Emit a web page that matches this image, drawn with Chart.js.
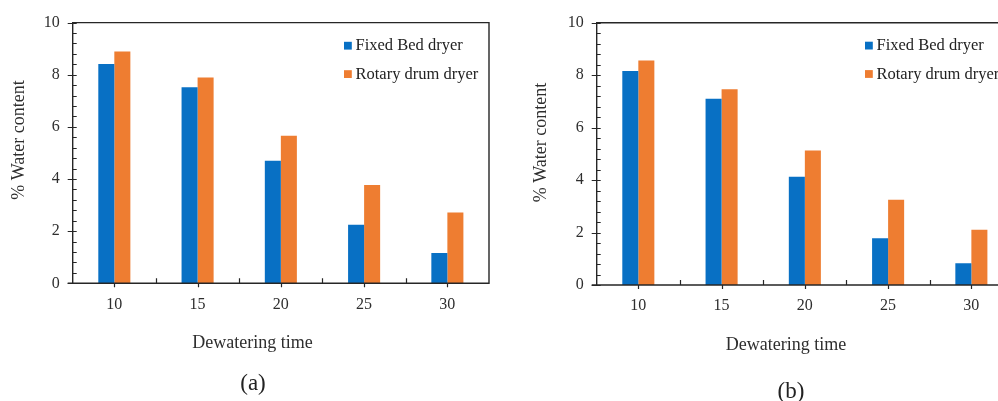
<!DOCTYPE html>
<html><head><meta charset="utf-8">
<script src="https://cdn.jsdelivr.net/npm/chart.js@4/dist/chart.umd.min.js"></script>
<style>
html,body{margin:0;padding:0;width:998px;height:401px;overflow:hidden;background:#fff;}
#wrap{position:relative;width:998px;height:401px;overflow:hidden;}
canvas{position:absolute;top:0;}
</style></head><body>
<div id="wrap">
<canvas id="ca" width="500" height="401" style="left:0"></canvas>
<canvas id="cb" width="530" height="401" style="left:500px"></canvas>
</div>
<script>
// ---- data ----
const categories = ['10', '15', '20', '25', '30'];
const seriesNames = ['Fixed Bed dryer', 'Rotary drum dryer'];
const fixedBedA = [8.41, 7.52, 4.70, 2.25, 1.16];
const rotaryDrumA = [8.89, 7.89, 5.66, 3.77, 2.72];
const fixedBedB = [8.16, 7.10, 4.13, 1.78, 0.83];
const rotaryDrumB = [8.56, 7.46, 5.13, 3.25, 2.11];
const yMin = 0, yMax = 10, yStep = 2, yMinorStep = 0.4;
const xTitle = 'Dewatering time';
const yTitle = '% Water content';
const panelLabels = ['(a)', '(b)'];

// ---- styles ----
const BLUE = '#0870C4';
const ORANGE = '#EE7D31';
const FONT = "'Liberation Serif', 'Times New Roman', serif";
const AXIS = '#262626';
const TEXT = '#2e2e2e';

const decor = {
  id: 'decor',
  afterDraw(chart, args, o) {
    const ctx = chart.ctx, ca = chart.chartArea;
    const xs = chart.scales.x, ys = chart.scales.y;
    ctx.save();
    ctx.strokeStyle = AXIS;
    ctx.lineWidth = 1.4;
    // frame
    ctx.beginPath();
    ctx.moveTo(ca.left, ca.bottom); ctx.lineTo(ca.left, ca.top); ctx.lineTo(ca.right, ca.top); ctx.lineTo(ca.right, ca.bottom); ctx.lineTo(ca.left - 5, ca.bottom);
    ctx.stroke();
    // y ticks
    ctx.lineWidth = 1.2;
    const n = Math.round((yMax - yMin) / yMinorStep);
    const per = Math.round(yStep / yMinorStep);
    ctx.beginPath();
    for (let i = 0; i <= n; i++) {
      const py = Math.round(ys.getPixelForValue(yMin + i * yMinorStep)) + 0.5;
      const major = i % per === 0;
      ctx.moveTo(ca.left - (major ? 5 : 0), py);
      ctx.lineTo(ca.left + 4, py);
    }
    // x ticks
    const m = categories.length;
    for (let i = 0; i < m; i++) {
      const px = Math.round(xs.getPixelForValue(i)) + 0.5;
      ctx.moveTo(px, ca.bottom); ctx.lineTo(px, ca.bottom + 4);
      if (i < m - 1) {
        const bx = Math.round((xs.getPixelForValue(i) + xs.getPixelForValue(i + 1)) / 2) + 0.5;
        ctx.moveTo(bx, ca.bottom); ctx.lineTo(bx, ca.bottom - 5);
      }
    }
    ctx.stroke();
    // legend
    ctx.font = '16.5px ' + FONT;
    ctx.textBaseline = 'middle';
    ctx.textAlign = 'left';
    chart.data.datasets.forEach((ds, k) => {
      const lx = ca.left + o.legendDX, ly = ca.top + o.legendDY + k * 28.4;
      ctx.fillStyle = ds.backgroundColor;
      ctx.fillRect(lx, ly - 3.8, 7.8, 7.8);
      ctx.fillStyle = '#222';
      ctx.fillText(ds.label, lx + 11.5, ly + 0.5);
    });
    // titles
    ctx.fillStyle = TEXT;
    ctx.font = '18px ' + FONT;
    ctx.textAlign = 'center';
    ctx.fillText(o.xTitle, o.xTitleX, o.xTitleY);
    ctx.save();
    ctx.translate(o.yTitleX, o.yTitleY);
    ctx.rotate(-Math.PI / 2);
    ctx.fillText(o.yTitle, 0, 0);
    ctx.restore();
    ctx.font = '23px ' + FONT;
    ctx.fillStyle = '#222';
    ctx.fillText(o.label, o.labelX, o.labelY);
    ctx.restore();
  }
};

function makeChart(id, fixed, rotary, P) {
  return new Chart(document.getElementById(id), {
    type: 'bar',
    data: {
      labels: categories,
      datasets: [
        { label: seriesNames[0], data: fixed, backgroundColor: BLUE },
        { label: seriesNames[1], data: rotary, backgroundColor: ORANGE }
      ]
    },
    plugins: [decor],
    options: {
      responsive: false,
      animation: false,
      devicePixelRatio: 1,
      categoryPercentage: 0.385,
      barPercentage: 1.0,
      layout: { padding: { left: 0, top: P.padTop, right: P.padRight, bottom: 0 } },
      plugins: {
        legend: { display: false },
        tooltip: { enabled: false },
        decor: P
      },
      scales: {
        x: {
          grid: { display: false, drawTicks: false },
          border: { display: false },
          ticks: { font: { family: FONT, size: 16 }, color: TEXT, padding: 11.5 },
          afterFit: s => { s.height = P.xHeight; }
        },
        y: {
          min: yMin, max: yMax,
          grid: { display: false, drawTicks: false },
          border: { display: false },
          ticks: { stepSize: yStep, font: { family: FONT, size: 16 }, color: TEXT, padding: 13 },
          afterFit: s => { s.width = P.yWidth; }
        }
      }
    }
  });
}

makeChart('ca', fixedBedA, rotaryDrumA, {
  yWidth: 72.7, padTop: 20, padRight: 11, xHeight: 117.7,
  yTitleX: 19, yTitleY: 140, yTitle: yTitle,
  xTitleX: 252.5, xTitleY: 343, xTitle: xTitle,
  labelX: 253, labelY: 384, label: panelLabels[0],
  legendDX: 271.3, legendDY: 23
});
makeChart('cb', fixedBedB, rotaryDrumB, {
  yWidth: 96.7, padTop: 22.7, padRight: 17, xHeight: 116,
  yTitleX: 41.7, yTitleY: 142.6, yTitle: yTitle,
  xTitleX: 286, xTitleY: 345, xTitle: xTitle,
  labelX: 291, labelY: 392, label: panelLabels[1],
  legendDX: 268.3, legendDY: 22.8
});
</script>
</body></html>
